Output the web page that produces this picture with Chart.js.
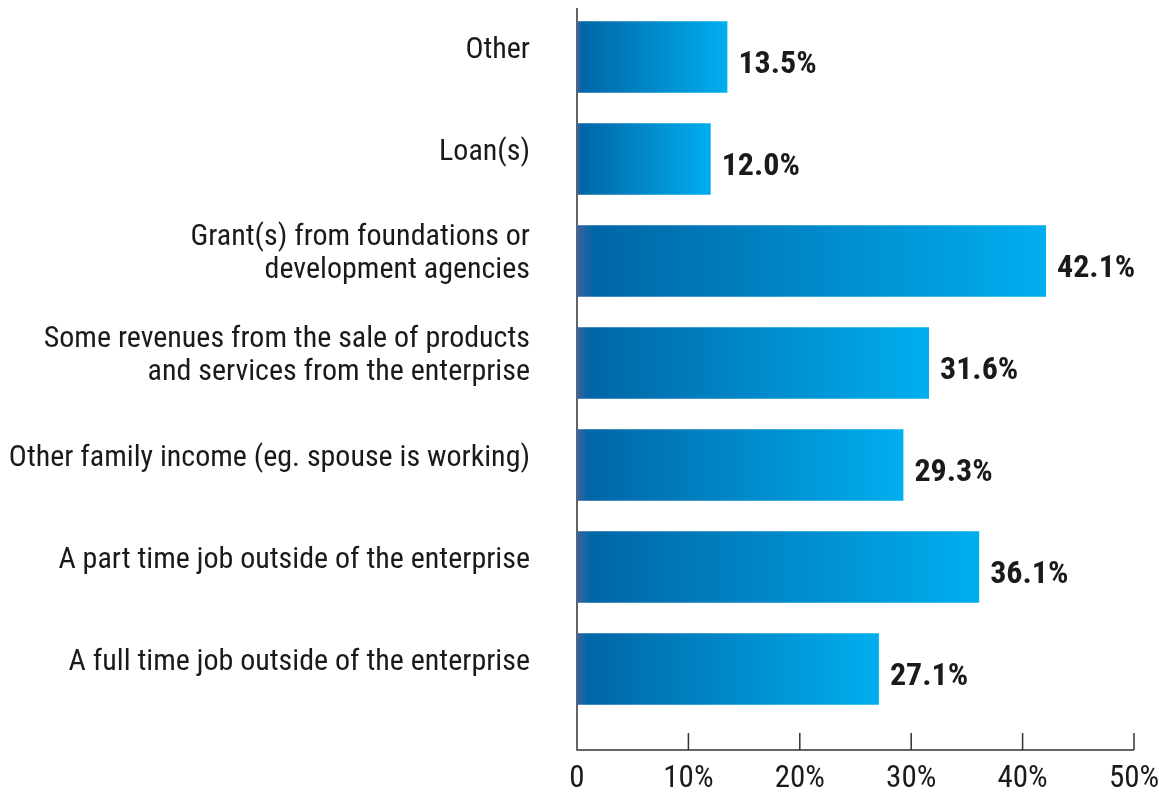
<!DOCTYPE html>
<html>
<head>
<meta charset="utf-8">
<script src="https://cdn.jsdelivr.net/npm/chart.js@4"></script>
<style>
  body { margin: 0; background: #fff; }
  canvas { display: block; }
</style>
</head>
<body>
<canvas id="funding-chart" width="1159" height="798"></canvas>
<script>
// categories, top to bottom
let categories = [
  'Other',
  'Loan(s)',
  ['Grant(s) from foundations or', 'development agencies'],
  ['Some revenues from the sale of products', 'and services from the enterprise'],
  'Other family income (eg. spouse is working)',
  'A part time job outside of the enterprise',
  'A full time job outside of the enterprise',
];

// share of respondents, percent
let shares = [13.5, 12.0, 42.1, 31.6, 29.3, 36.1, 27.1];

// x axis ticks
let tickValues = [0, 10, 20, 30, 40, 50];

const FONT = '"Roboto Condensed", "DejaVu Sans Condensed", sans-serif';
const INK = '#1a1a1a';

// each bar gets its own left-to-right gradient
function barGradient(ctx) {
  let chart = ctx.chart;
  if (ctx.raw === undefined || !chart.chartArea) return '#0a7fc4';
  let x = chart.scales.x;
  let x0 = x.getPixelForValue(0);
  let x1 = x.getPixelForValue(ctx.raw);
  let g = chart.ctx.createLinearGradient(x0, 0, x1, 0);
  g.addColorStop(0, '#3d63a0');
  g.addColorStop(0.035, '#0066a6');
  g.addColorStop(1, '#00aeef');
  return g;
}

// axis lines and tick marks sit below the last bar
let axisPlugin = {
  id: 'axisLines',
  beforeDatasetsDraw(chart) {
    let c = chart.ctx;
    let x = chart.scales.x;
    let area = chart.chartArea;
    let axisY = area.bottom + 30;
    c.save();
    c.strokeStyle = '#333';
    c.lineWidth = 1.5;
    c.beginPath();
    c.moveTo(x.getPixelForValue(0), 8);
    c.lineTo(x.getPixelForValue(0), axisY);
    c.lineTo(x.getPixelForValue(50), axisY);
    tickValues.forEach((v) => {
      c.moveTo(x.getPixelForValue(v), axisY);
      c.lineTo(x.getPixelForValue(v), axisY - 17);
    });
    c.stroke();
    c.restore();
  },
};

// value labels at the end of each bar
let valuePlugin = {
  id: 'valueLabels',
  afterDatasetsDraw(chart) {
    let c = chart.ctx;
    let meta = chart.getDatasetMeta(0);
    c.save();
    c.font = 'bold 32px ' + FONT;
    c.fillStyle = INK;
    c.textAlign = 'left';
    c.textBaseline = 'alphabetic';
    meta.data.forEach((bar, i) => {
      c.fillText(shares[i].toFixed(1) + '%', bar.x + 11, bar.y + 16);
    });
    c.restore();
  },
};

let chart = new Chart(document.querySelector('#funding-chart'), {
  type: 'bar',
  data: {
    labels: categories,
    datasets: [
      {
        data: shares,
        backgroundColor: barGradient,
        borderWidth: 0,
        categoryPercentage: 1,
        barPercentage: 0.7,
      },
    ],
  },
  options: {
    indexAxis: 'y',
    responsive: false,
    animation: false,
    layout: { padding: { top: 6, right: 25, left: 0, bottom: 0 } },
    plugins: {
      legend: { display: false },
      tooltip: { enabled: false },
    },
    scales: {
      x: {
        min: 0,
        max: 50,
        afterFit: (scale) => {
          scale.height = 78;
          scale.paddingLeft = 0;
          scale.paddingRight = 0;
        },
        grid: { display: false, drawTicks: false },
        border: { display: false },
        ticks: {
          stepSize: 10,
          padding: 41,
          color: INK,
          font: { family: FONT, size: 31 },
          callback: (v) => (v === 0 ? '0' : v + '%'),
        },
      },
      y: {
        afterFit: (scale) => {
          scale.width = 577;
          scale.paddingTop = 0;
          scale.paddingBottom = 0;
        },
        grid: { display: false, drawTicks: false },
        border: { display: false },
        ticks: {
          padding: 47,
          labelOffset: -7,
          color: INK,
          font: { family: FONT, size: 30, lineHeight: 1.12 },
        },
      },
    },
  },
  plugins: [axisPlugin, valuePlugin],
});
</script>
</body>
</html>
